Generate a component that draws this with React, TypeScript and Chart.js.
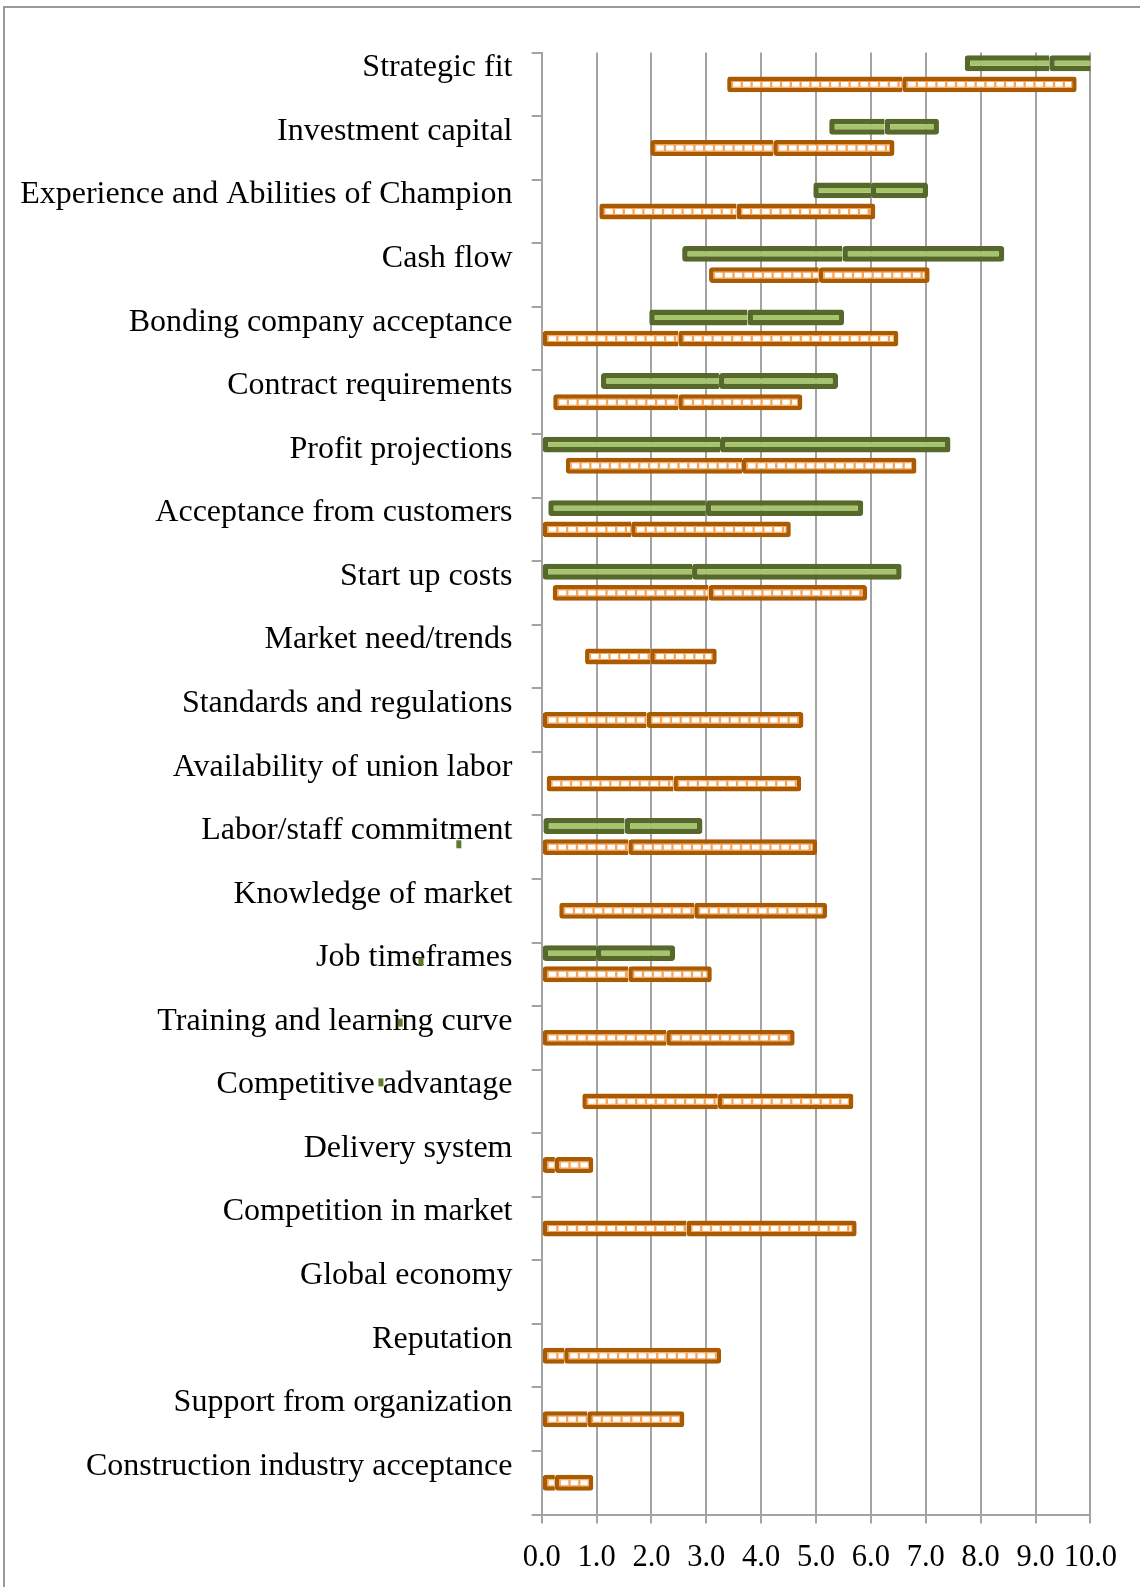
import React, { useEffect, useRef } from 'react';
import { Chart, registerables } from 'chart.js';

Chart.register(...registerables);

const categories = [
  'Strategic fit',
  'Investment capital',
  'Experience and Abilities of Champion',
  'Cash flow',
  'Bonding company acceptance',
  'Contract requirements',
  'Profit projections',
  'Acceptance from customers',
  'Start up costs',
  'Market need/trends',
  'Standards and regulations',
  'Availability of union labor',
  'Labor/staff commitment',
  'Knowledge of market',
  'Job timeframes',
  'Training and learning curve',
  'Competitive advantage',
  'Delivery system',
  'Competition in market',
  'Global economy',
  'Reputation',
  'Support from organization',
  'Construction industry acceptance',
];

const greenMin = [7.71, 5.24, 4.95, 2.56, 1.96, 1.08, 0.0, 0.12, 0.0, null, null, null, 0.03, null, 0.0, null, null, null, null, null, null, null, null];
const greenMean = [9.25, 6.25, 6.0, 5.48, 3.75, 3.23, 3.25, 2.99, 2.74, null, null, null, 1.51, null, 0.99, null, null, null, null, null, null, null, null];
const greenMax = [10.4, 7.24, 7.04, 8.43, 5.51, 5.4, 7.45, 5.86, 6.56, null, null, null, 2.93, null, 2.43, null, null, null, null, null, null, null, null];

const orangeMin = [3.38, 1.98, 1.05, 3.05, 0.0, 0.21, 0.44, 0.0, 0.2, 0.79, 0.0, 0.09, 0.0, 0.32, 0.02, 0.0, 0.74, 0.0, 0.0, null, 0.0, 0.0, 0.0];
const orangeMean = [6.57, 4.22, 3.55, 5.05, 2.49, 2.49, 3.65, 1.63, 3.04, 1.98, 1.91, 2.4, 1.58, 2.78, 1.58, 2.27, 3.21, 0.24, 2.64, null, 0.41, 0.83, 0.24];
const orangeMax = [9.75, 6.43, 6.08, 7.07, 6.5, 4.75, 6.83, 4.54, 5.93, 3.19, 4.77, 4.73, 5.02, 5.2, 3.1, 4.61, 5.68, 0.94, 5.74, null, 3.27, 2.6, 0.94];

const xTickLabels = ['0.0', '1.0', '2.0', '3.0', '4.0', '5.0', '6.0', '7.0', '8.0', '9.0', '10.0'];

// small stray marks: value on the x axis, position on the category axis (index units)
const markX = [-1.51, -2.2, -2.58, -2.93];
const markPos = [11.955, 13.8, 14.76, 15.7];

const GREEN_EDGE = '#56692B';
const GREEN_FILL = '#A6C46C';
const ORANGE_EDGE = '#AA5A00';
const ORANGE_FILL = '#F6A45A';
const GRID = '#A3A3A3';
const FONT = "'Liberation Serif', 'Times New Roman', serif";

const G_BW = 5.5;
const O_BW = 4.5;

function ranges(lo: (number | null)[], hi: (number | null)[]) {
  return lo.map((v, i) => (v == null || hi[i] == null ? null : [v, hi[i] as number]));
}

const overlayPlugin = {
  id: 'overlay',
  afterDatasetsDraw(chart: any) {
    const ctx = chart.ctx;
    const area = chart.chartArea;
    ctx.save();
    ctx.beginPath();
    ctx.rect(area.left, area.top, area.right - area.left, area.bottom - area.top);
    ctx.clip();
    const sets: [number, number, number][] = [
      [2, O_BW, 0],
      [3, O_BW, O_BW],
    ];
    for (const [di, bl, br] of sets) {
      const meta = chart.getDatasetMeta(di);
      const data = chart.data.datasets[di].data;
      meta.data.forEach((el: any, i: number) => {
        if (data[i] == null) return;
        const p = el.getProps(['x', 'y', 'base', 'height'], true);
        const l = Math.min(p.x, p.base) + bl;
        const r = Math.max(p.x, p.base) - br;
        const t = p.y - p.height / 2 + O_BW;
        const b = p.y + p.height / 2 - O_BW;
        if (r - l < 2) return;
        ctx.save();
        ctx.beginPath();
        ctx.rect(l, t, r - l, b - t);
        ctx.clip();
        ctx.strokeStyle = '#FFFFFF';
        ctx.lineWidth = Math.max(1, b - t - 2);
        ctx.setLineDash([7.5, 2.3]);
        ctx.beginPath();
        ctx.moveTo(l + 1.5, p.y);
        ctx.lineTo(r - 1, p.y);
        ctx.stroke();
        ctx.restore();
      });
    }
    ctx.restore();

    // stray marks, placed through the scales
    const xs = chart.scales.x;
    const ys = chart.scales.y;
    ctx.save();
    ctx.fillStyle = '#5E7A2C';
    markX.forEach((v, i) => {
      const px = xs.getPixelForValue(v);
      const py = ys.getPixelForValue(markPos[i]);
      ctx.fillRect(px - 2.5, py - 4, 5, 8);
    });
    ctx.restore();
  },
};

export default function App() {
  const ref = useRef<HTMLCanvasElement | null>(null);

  useEffect(() => {
    const canvas = ref.current;
    if (!canvas) return;
    const barCommon = {
      barPercentage: 0.75,
      categoryPercentage: 1.0,
      borderRadius: 3,
      clip: 0,
    };
    const chart = new Chart(canvas, {
      type: 'bar',
      data: {
        labels: categories,
        datasets: [
          {
            label: 'green low',
            data: ranges(greenMin, greenMean) as any,
            stack: 'g',
            backgroundColor: GREEN_FILL,
            borderColor: GREEN_EDGE,
            borderWidth: G_BW,
            borderSkipped: 'right',
            ...barCommon,
          } as any,
          {
            label: 'green high',
            data: ranges(greenMean, greenMax) as any,
            stack: 'g',
            backgroundColor: GREEN_FILL,
            borderColor: GREEN_EDGE,
            borderWidth: G_BW,
            borderSkipped: false,
            ...barCommon,
          } as any,
          {
            label: 'orange low',
            data: ranges(orangeMin, orangeMean) as any,
            stack: 'o',
            backgroundColor: ORANGE_FILL,
            borderColor: ORANGE_EDGE,
            borderWidth: O_BW,
            borderSkipped: 'right',
            ...barCommon,
          } as any,
          {
            label: 'orange high',
            data: ranges(orangeMean, orangeMax) as any,
            stack: 'o',
            backgroundColor: ORANGE_FILL,
            borderColor: ORANGE_EDGE,
            borderWidth: O_BW,
            borderSkipped: false,
            ...barCommon,
          } as any,
          {
            label: 'spacer',
            data: categories.map(() => null) as any,
            stack: 'z',
            ...barCommon,
          } as any,
        ],
      },
      options: {
        indexAxis: 'y',
        responsive: false,
        animation: false,
        events: [],
        layout: { padding: { top: 52.6, right: 49.6, bottom: 0, left: 0 } },
        plugins: {
          legend: { display: false },
          tooltip: { enabled: false },
        },
        scales: {
          x: {
            type: 'linear',
            position: 'bottom',
            min: 0,
            max: 10,
            stacked: false,
            afterFit: (s: any) => {
              s.height = 72.4;
            },
            ticks: {
              stepSize: 1,
              autoSkip: false,
              maxRotation: 0,
              padding: 16.5,
              color: '#000000',
              font: { family: FONT, size: 30.5 },
              callback: (_v: any, i: number) => xTickLabels[i],
            },
            grid: { color: GRID, lineWidth: 2, tickLength: 9, drawOnChartArea: true },
            border: { color: GRID, width: 2 },
          },
          y: {
            type: 'category',
            position: 'left',
            offset: true,
            afterFit: (s: any) => {
              s.width = 541.7;
            },
            ticks: {
              autoSkip: false,
              padding: 19.2,
              labelOffset: -16.5,
              color: '#000000',
              font: { family: FONT, size: 32 },
            },
            grid: { drawOnChartArea: false, offset: true, color: GRID, lineWidth: 2, tickLength: 10 },
            border: { color: GRID, width: 2 },
          },
        },
      } as any,
      plugins: [overlayPlugin],
    });
    return () => {
      chart.destroy();
    };
  }, []);

  return (
    <div
      style={{
        position: 'fixed',
        left: 0,
        top: 0,
        width: 1140,
        height: 1587,
        background: '#FFFFFF',
        overflow: 'hidden',
      }}
    >
      <div
        style={{
          position: 'absolute',
          left: 3,
          top: 6.3,
          width: 1137,
          height: 1581,
          borderLeft: '2px solid #999999',
          borderTop: '2px solid #999999',
          boxSizing: 'border-box',
        }}
      />
      <canvas
        ref={ref}
        width={1140}
        height={1587}
        style={{ position: 'absolute', left: 0, top: 0, width: 1140, height: 1587 }}
      />
    </div>
  );
}
